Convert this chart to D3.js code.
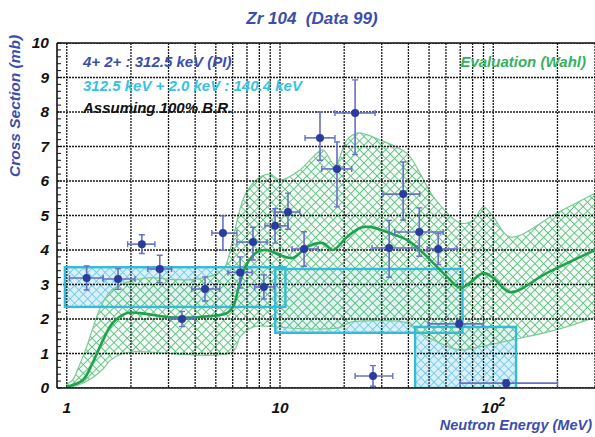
<!DOCTYPE html>
<html>
<head>
<meta charset="utf-8">
<script src="https://cdn.jsdelivr.net/npm/d3@7"></script>
<style>
  html, body { margin: 0; padding: 0; background: #fff; }
  svg { display: block; font-family: "Liberation Sans", Arial, sans-serif; font-weight: bold; font-style: italic; }
</style>
</head>
<body>
<svg id="chart" width="595" height="437"></svg>
<script>
// ---- measured data points (neutron energy in MeV, cross section in mb) ----
const pointE    = [1.24, 1.74, 2.25, 2.73, 3.47, 4.45, 5.4, 6.5, 7.47, 8.4, 9.48, 10.9, 12.97, 15.4, 18.5, 22.5, 27.3, 32.5, 37.8, 45, 55.2, 69.2, 115];
const pointXS   = [3.19, 3.16, 4.17, 3.45, 2.0, 2.87, 4.49, 3.35, 4.23, 2.93, 4.7, 5.1, 4.03, 7.25, 6.35, 7.97, 0.35, 4.06, 5.62, 4.52, 4.03, 1.86, 0.14];
const pointELo  = [1.03, 1.48, 1.93, 2.4, 3.04, 3.86, 4.79, 5.7, 6.28, 7.6, 8.5, 9.4, 11.4, 13.1, 15.7, 18.1, 22.5, 27.0, 30.4, 34.5, 49.0, 49.5, 70];
const pointEHi  = [1.48, 2.09, 2.59, 3.1, 3.99, 5.22, 6.28, 7.4, 8.7, 9.4, 10.9, 12.4, 15.1, 18.1, 21.7, 27.9, 33.8, 44.1, 45.2, 58.2, 67.6, 90, 200];
const pointErrLo = [0.35, 0.3, 0.27, 0.4, 0.22, 0.35, 0.5, 0.45, 0.52, 0.35, 0.5, 0.5, 0.5, 0.65, 1.1, 1.2, 0.3, 0.85, 0.75, 0.7, 0.45, 0.1, 0.1];
const pointErrHi = [0.35, 0.3, 0.27, 0.4, 0.22, 0.35, 0.5, 0.45, 0.43, 0.35, 0.5, 0.55, 0.5, 0.75, 0.78, 0.96, 0.3, 0.8, 0.93, 0.7, 0.45, 0.1, 0.1];

// ---- 312.5 + 2.0 keV : 140.4 keV bins ----
const boxELo  = [0.98, 9.5, 43];
const boxEHi  = [10.6, 71.7, 128];
const boxXSLo = [2.35, 1.6, 0];
const boxXSHi = [3.5, 3.45, 1.77];

// ---- Wahl evaluation: band limits and central curve ----
const evalUpperE  = [1.0, 1.07, 1.11, 1.24, 1.43, 1.6, 1.8, 2.0, 2.5, 3.0, 4.0, 5.0, 5.5, 6.0, 6.5, 7.0, 8.0, 9.0, 10, 12.4, 14.3, 15.9, 18.1, 20.6, 23, 29.4, 39.4, 45.3, 52.4, 70.3, 80.8, 89.9, 100, 120, 199, 300];
const evalUpperXS = [0.1, 0.25, 0.45, 1.2, 2.3, 2.8, 3.0, 3.1, 3.2, 3.15, 3.15, 3.3, 3.5, 4.3, 5.2, 5.7, 6.1, 6.2, 6.03, 6.32, 6.7, 6.9, 6.46, 7.19, 7.39, 7.19, 6.8, 6.23, 5.54, 4.78, 4.87, 5.25, 4.96, 4.38, 5.07, 5.65];
const evalLowerE  = [1.0, 1.15, 1.32, 1.48, 1.6, 1.83, 2.05, 6.0, 6.5, 7.5, 9.7, 12.4, 19, 21.3, 29.4, 38.6, 45.3, 56.3, 70.3, 86.8, 124, 201, 300];
const evalLowerXS = [0.0, 0.1, 0.3, 0.55, 0.8, 1.0, 1.05, 1.05, 1.48, 1.77, 1.77, 1.72, 1.75, 1.9, 1.95, 1.9, 1.6, 1.3, 1.1, 1.2, 1.4, 1.7, 2.05];
const evalE  = [1.0, 1.19, 1.32, 1.48, 1.64, 1.91, 2.2, 2.95, 4.21, 5.63, 6.02, 6.48, 7.0, 7.8, 8.7, 9.26, 10.0, 11.5, 13.4, 15.9, 17.7, 20.6, 23.7, 26.4, 32.8, 39.4, 45.3, 52.4, 60.8, 70.3, 89.9, 100, 120, 178, 300];
const evalXS = [0.03, 0.23, 0.72, 1.39, 1.88, 2.17, 2.17, 2.06, 2.06, 2.17, 2.35, 3.04, 3.6, 3.94, 4.0, 3.94, 3.85, 3.77, 4.09, 4.2, 4.0, 4.38, 4.64, 4.67, 4.49, 4.29, 4.0, 3.62, 3.22, 2.9, 3.33, 3.19, 2.78, 3.33, 4.0];

// ---- axes ----
const yTicks = [0, 1, 2, 3, 4, 5, 6, 7, 8, 9, 10];
const xMajorTicks = [1, 10, 100];
const xTickLabels = ["1", "10", "10"];
const xTickSup    = ["", "", "2"];

const plot = { left: 57, right: 595, top: 43, bottom: 388 };

const x = d3.scaleLog().domain([0.9, 300]).range([plot.left, plot.right]);
const y = d3.scaleLinear().domain([0, 10]).range([plot.bottom, plot.top]);

const svg = d3.select("#chart");
const defs = svg.append("defs");

defs.append("clipPath").attr("id", "plotClip")
  .append("rect")
  .attr("x", plot.left).attr("y", plot.top)
  .attr("width", plot.right - plot.left).attr("height", plot.bottom - plot.top);

// cross-hatch fills
function hatch(id, bg, line, size, width) {
  const p = defs.append("pattern").attr("id", id)
    .attr("patternUnits", "userSpaceOnUse")
    .attr("width", size).attr("height", size)
    .attr("patternTransform", "rotate(45)");
  p.append("rect").attr("width", size).attr("height", size).attr("fill", bg);
  p.append("line").attr("x1", 0).attr("y1", 0).attr("x2", size).attr("y2", 0)
    .attr("stroke", line).attr("stroke-width", width);
  p.append("line").attr("x1", 0).attr("y1", 0).attr("x2", 0).attr("y2", size)
    .attr("stroke", line).attr("stroke-width", width);
}
hatch("hatchGreen", "rgba(232,247,236,0.55)", "#62c081", 6.2, 1.8);
hatch("hatchBlue", "#d8f0fa", "#6cc6e2", 6.2, 1.6);

const g = svg.append("g").attr("clip-path", "url(#plotClip)");

// bin fills
const boxes = boxELo.map((e0, i) => ({ e0, e1: boxEHi[i], lo: boxXSLo[i], hi: boxXSHi[i] }));
g.selectAll("rect.boxFill").data(boxes).join("rect")
  .attr("class", "boxFill")
  .attr("x", d => x(d.e0)).attr("y", d => y(d.hi))
  .attr("width", d => x(d.e1) - x(d.e0)).attr("height", d => y(d.lo) - y(d.hi))
  .attr("fill", "url(#hatchBlue)");

// evaluation band
const upper = evalUpperE.map((e, i) => [x(e), y(evalUpperXS[i])]);
const lower = evalLowerE.map((e, i) => [x(e), y(evalLowerXS[i])]).reverse();
const lineGen = d3.line().curve(d3.curveCatmullRom.alpha(0.5));
const bandPath = lineGen(upper) + lineGen(lower).replace(/^M/, "L") + "Z";
g.append("path").attr("d", bandPath)
  .attr("fill", "url(#hatchGreen)")
  .attr("stroke", "#7ccb94").attr("stroke-width", 1.2);

// grid
const gridG = g.append("g");
const xMinor = [];
for (const dec of [1, 10, 100]) for (let k = 1; k <= 9; k++) { const v = dec * k; if (v <= 300) xMinor.push(v); }
gridG.selectAll("line.vg").data(xMinor).join("line")
  .attr("x1", d => x(d)).attr("x2", d => x(d))
  .attr("y1", plot.top).attr("y2", plot.bottom)
  .attr("stroke", "#1a1a1a").attr("stroke-width", 1.3).attr("stroke-dasharray", "2,1");
gridG.selectAll("line.hg").data(yTicks).join("line")
  .attr("x1", plot.left).attr("x2", plot.right)
  .attr("y1", d => y(d)).attr("y2", d => y(d))
  .attr("stroke", "#1a1a1a").attr("stroke-width", 1.3).attr("stroke-dasharray", "2,1");

// bin outlines
g.selectAll("rect.boxLine").data(boxes).join("rect")
  .attr("x", d => x(d.e0)).attr("y", d => y(d.hi))
  .attr("width", d => x(d.e1) - x(d.e0)).attr("height", d => y(d.lo) - y(d.hi))
  .attr("fill", "none").attr("stroke", "#33bcd6").attr("stroke-width", 2.4);

// central evaluation curve
g.append("path")
  .attr("d", d3.line().x(d => x(d[0])).y(d => y(d[1])).curve(d3.curveCatmullRom.alpha(0.5))(evalE.map((e, i) => [e, evalXS[i]])))
  .attr("fill", "none").attr("stroke", "#1fa24e").attr("stroke-width", 2.6);

// data points with error bars
const pts = pointE.map((e, i) => ({ e, v: pointXS[i], e0: pointELo[i], e1: pointEHi[i], lo: pointErrLo[i], hi: pointErrHi[i] }));
const barColor = "#6670c4", cap = 3;
const pg = g.append("g").selectAll("g").data(pts).join("g");
pg.append("line")
  .attr("x1", d => x(d.e0)).attr("x2", d => x(d.e1))
  .attr("y1", d => y(d.v)).attr("y2", d => y(d.v))
  .attr("stroke", barColor).attr("stroke-width", 1.6);
pg.append("line")
  .attr("x1", d => x(d.e)).attr("x2", d => x(d.e))
  .attr("y1", d => y(d.v - d.lo)).attr("y2", d => y(d.v + d.hi))
  .attr("stroke", barColor).attr("stroke-width", 1.6);
pg.append("path")
  .attr("d", d => {
    const cx = x(d.e), cy = y(d.v);
    const xa = x(d.e0), xb = x(d.e1), ya = y(d.v - d.lo), yb = y(d.v + d.hi);
    return `M${xa},${cy - cap}V${cy + cap}M${xb},${cy - cap}V${cy + cap}` +
           `M${cx - cap},${ya}H${cx + cap}M${cx - cap},${yb}H${cx + cap}`;
  })
  .attr("stroke", barColor).attr("stroke-width", 1.4).attr("fill", "none");
pg.append("circle")
  .attr("cx", d => x(d.e)).attr("cy", d => y(d.v)).attr("r", 4)
  .attr("fill", "#2a3c9c");

// axis frame
svg.append("line").attr("x1", plot.left).attr("x2", plot.left).attr("y1", plot.top).attr("y2", plot.bottom)
  .attr("stroke", "#111").attr("stroke-width", 1.6);
svg.append("line").attr("x1", plot.left).attr("x2", plot.right).attr("y1", plot.bottom).attr("y2", plot.bottom)
  .attr("stroke", "#111").attr("stroke-width", 1.6);
svg.append("line").attr("x1", plot.left).attr("x2", plot.right).attr("y1", plot.top).attr("y2", plot.top)
  .attr("stroke", "#111").attr("stroke-width", 1.4);

// left axis with minor ticks
const yAxis = d3.axisLeft(y).tickValues(yTicks).tickSize(0).tickPadding(8).tickFormat(d3.format("d"));
const yAx = svg.append("g").attr("transform", `translate(${plot.left},0)`).call(yAxis);
yAx.select(".domain").remove();
yAx.selectAll("text").attr("font-size", 15.5).attr("fill", "#111")
  .attr("font-family", "Liberation Sans, Arial, sans-serif").attr("font-weight", "bold").attr("font-style", "italic");
const yMinor = d3.range(0, 10.001, 0.2);
svg.append("g").selectAll("line").data(yMinor).join("line")
  .attr("x1", plot.left).attr("x2", plot.left + 4)
  .attr("y1", d => y(d)).attr("y2", d => y(d))
  .attr("stroke", "#111").attr("stroke-width", 1);

// bottom axis labels
const xl = svg.append("g").selectAll("text").data(xMajorTicks).join("text")
  .attr("x", d => x(d)).attr("y", 413)
  .attr("text-anchor", "middle").attr("font-size", 15.5).attr("fill", "#111");
xl.append("tspan").text((d, i) => xTickLabels[i]);
xl.append("tspan").attr("dy", -7).attr("font-size", 12).text((d, i) => xTickSup[i]);

// titles
const blue = "#3d4dab";
svg.append("text").attr("x", 312).attr("y", 24).attr("text-anchor", "middle")
  .attr("font-size", 17).attr("fill", blue).text("Zr 104\u00a0 (Data 99)");
svg.append("text").attr("transform", "translate(20,106) rotate(-90)").attr("text-anchor", "middle")
  .attr("font-size", 15.5).attr("fill", blue).text("Cross Section (mb)");
svg.append("text").attr("x", 592).attr("y", 430).attr("text-anchor", "end")
  .attr("font-size", 14.5).attr("fill", blue).text("Neutron Energy (MeV)");

// legend texts
svg.append("text").attr("x", 83).attr("y", 67).attr("font-size", 15).attr("fill", "#3d4dab")
  .text("4+ 2+ : 312.5 keV (PI)");
svg.append("text").attr("x", 83).attr("y", 91).attr("font-size", 15).attr("fill", "#35c3df")
  .text("312.5 keV + 2.0 keV : 140.4 keV");
svg.append("text").attr("x", 83).attr("y", 113).attr("font-size", 15).attr("fill", "#111")
  .text("Assuming 100% B.R.");
svg.append("text").attr("x", 586).attr("y", 67).attr("text-anchor", "end").attr("font-size", 15).attr("fill", "#36b15c")
  .text("Evaluation (Wahl)");
</script>
</body>
</html>
